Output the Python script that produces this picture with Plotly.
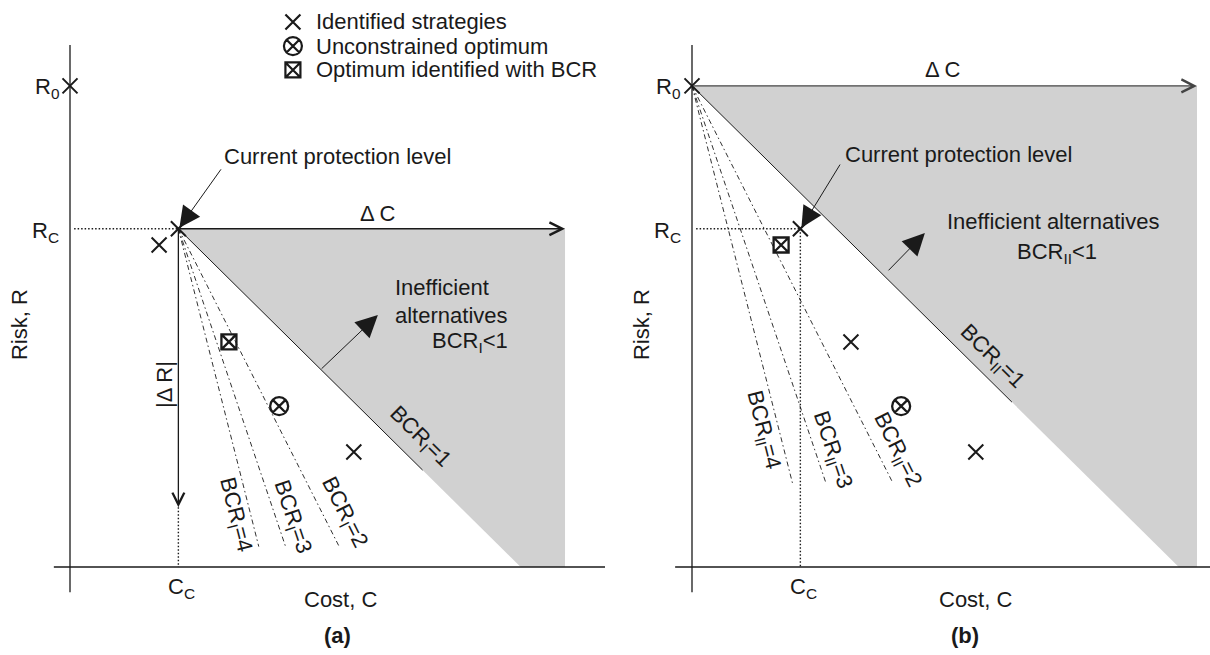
import plotly.graph_objects as go

# Candidate protection strategies: cost C and residual risk R
cost = [0.0, 2.59, 3.15, 4.62, 6.08, 8.25]
risk = [14.15, 9.47, 9.95, 6.62, 4.73, 3.38]
R0_IDX, CUR_IDX, OPT_IDX = 0, 2, 4

# benefit-cost ratio iso-lines
bcr_levels = [1, 2, 3, 4]

FONT = "Liberation Sans, Arial, Helvetica, sans-serif"
INK = "#1a1a1a"
FS = 22

panels = [
    dict(name="a", xr="x", yr="y", base=CUR_IDX, best=3, sub="I",
         xrange=[-2.035, 15.552], cmax=14.39, line_end=0.6, solid_len=7.1,
         xaxis_start=-0.47, dc_color=INK),
    dict(name="b", xr="x2", yr="y2", base=R0_IDX, best=1, sub="II",
         xrange=[-2.529, 15.058], cmax=14.68, line_end=2.47, solid_len=9.3,
         xaxis_start=-0.49, dc_color="#444444"),
]

fig = go.Figure()
ann = []


def line(p, xs, ys, width=1.2, dash="solid", color=INK):
    fig.add_trace(go.Scatter(x=xs, y=ys, mode="lines", xaxis=p["xr"], yaxis=p["yr"],
                             line=dict(color=color, width=width, dash=dash),
                             hoverinfo="skip", showlegend=False))


def text(p, s, x, y, **kw):
    d = dict(text=s, x=x, y=y, xref=p["xr"], yref=p["yr"], showarrow=False,
             font=dict(family=FONT, size=FS, color=INK))
    d.update(kw)
    ann.append(d)


def arrow(p, x0, y0, x1, y1, head, size, width=1.2, color=INK):
    ann.append(dict(x=x1, y=y1, ax=x0, ay=y0, xref=p["xr"], yref=p["yr"],
                    axref=p["xr"], ayref=p["yr"], text="", showarrow=True,
                    arrowhead=head, arrowsize=size, arrowwidth=width,
                    arrowcolor=color, standoff=0))


def markers(p, xs, ys, symbol, size, lw):
    fig.add_trace(go.Scatter(x=xs, y=ys, mode="markers", xaxis=p["xr"], yaxis=p["yr"],
                             marker=dict(symbol=symbol, size=size, color=INK,
                                         line=dict(width=lw, color=INK)),
                             hoverinfo="skip", showlegend=False))


for p in panels:
    c0, r0 = cost[p["base"]], risk[p["base"]]
    cc, rc = cost[CUR_IDX], risk[CUR_IDX]
    cmax = p["cmax"]

    # shaded region of inefficient alternatives (BCR < 1)
    fig.add_trace(go.Scatter(x=[c0, cmax, cmax, c0 + r0, c0], y=[r0, r0, 0, 0, r0],
                             mode="lines", fill="toself", fillcolor="#d1d1d1",
                             line=dict(width=0), xaxis=p["xr"], yaxis=p["yr"],
                             hoverinfo="skip", showlegend=False))

    # axes
    line(p, [0, 0], [-0.74, 15.35], width=1.3)
    line(p, [p["xaxis_start"], p["xrange"][1]], [0, 0], width=1.3)

    # current protection level guides
    line(p, [0.12, cc], [rc, rc], width=1.4, dash="1.5px,2px")
    if p["name"] == "a":
        line(p, [cc, cc], [1.76, 0], width=1.4, dash="1.5px,2px")
    else:
        line(p, [cc, cc], [rc, 0], width=1.4, dash="1.5px,2px")

    # BCR iso-lines
    for b in bcr_levels:
        if b == 1:
            L = p["solid_len"]
            line(p, [c0, c0 + L], [r0, r0 - L], width=1.0)
        else:
            dr = r0 - p["line_end"]
            line(p, [c0, c0 + dr / b], [r0, p["line_end"]], width=0.9,
                 dash="5px,3px,1.5px,3px")

    # strategies
    box_i = p["best"]
    x_idx = [i for i in range(len(cost)) if i not in (box_i, OPT_IDX)]
    markers(p, [cost[i] for i in x_idx], [risk[i] for i in x_idx], "x-thin-open", 15, 2)
    markers(p, [cost[OPT_IDX]], [risk[OPT_IDX]], "circle-x-open", 18, 2.3)
    markers(p, [cost[box_i]], [risk[box_i]], "square-x-open", 15, 2.3)

    # Delta C arrow
    arrow(p, c0, r0, cmax, r0, 5, 1.8, 1.4, p["dc_color"])

    # axis labels
    text(p, "R<sub>0</sub>", -0.26 if p["name"] == "a" else -0.29, 14.1, xanchor="right")
    text(p, "R<sub>C</sub>", -0.25, 9.85, xanchor="right")
    text(p, "C<sub>C</sub>", cc + 0.08, -0.15, yanchor="top")
    text(p, "Risk, R", -1.45, 7.12, textangle=-90)
    sub = p["sub"]
    if p["name"] == "a":
        text(p, "Cost, C", 7.85, -0.97)
        text(p, "<b>(a)</b>", 7.79, -2.0)
        text(p, "Δ C", 8.95, 10.41)
        arrow(p, cc, rc, cc, 1.76, 5, 1.8, 1.3)
        text(p, "|Δ R|", 2.73, 5.38, textangle=-90)
        text(p, "Current protection level", 4.42, 12.06, xanchor="left")
        arrow(p, 4.42, 11.74, cc + 0.03, rc + 0.03, 2, 4.2, 1.0)
        text(p, "Inefficient", 9.39, 8.21, xanchor="left")
        text(p, "alternatives", 9.39, 7.41, xanchor="left")
        text(p, "BCR<sub>I</sub><1", 12.79, 6.62, xanchor="right")
        arrow(p, 7.27, 5.79, 8.95, 7.41, 2, 4.4, 1.0)
        lab = [(1, 10.17, 3.82), (2, 7.97, 1.59), (3, 6.45, 1.47), (4, 4.80, 1.53)]
    else:
        text(p, "Cost, C", 8.23, -0.97)
        text(p, "<b>(b)</b>", 7.94, -2.0)
        text(p, "Δ C", 7.3, 14.62)
        text(p, "Current protection level", 4.39, 12.12, xanchor="left")
        arrow(p, 4.33, 11.88, cc + 0.03, rc + 0.03, 2, 4.2, 1.0)
        text(p, "Inefficient alternatives", 10.49, 10.15)
        text(p, "BCR<sub>II</sub><1", 10.61, 9.24)
        arrow(p, 5.67, 8.68, 6.77, 9.82, 2, 4.4, 1.0)
        lab = [(1, 8.72, 6.18), (2, 5.96, 3.44), (3, 4.07, 3.44), (4, 2.06, 4.03)]
    angles = {1: 44.7, 2: 63.2, 3: 71.4, 4: 75.8}
    for b, lx, ly in lab:
        text(p, f"BCR<sub>{sub}</sub>={b}", lx, ly, textangle=angles[b])

# key
p0 = panels[0]
key_rows = [16.03, 15.32, 14.62]
key_text = ["Identified strategies", "Unconstrained optimum", "Optimum identified with BCR"]
key_sym = ["x-thin-open", "circle-x-open", "square-x-open"]
key_size = [15, 18, 15]
for s, sz, ry, t in zip(key_sym, key_size, key_rows, key_text):
    markers(p0, [6.48], [ry], s, sz, 2.2)
    text(p0, t, 7.1, ry, xanchor="left")

ax_common = dict(visible=False, showgrid=False, zeroline=False, fixedrange=True)
fig.update_layout(
    width=1210, height=655,
    margin=dict(l=0, r=0, t=0, b=0),
    paper_bgcolor="white", plot_bgcolor="white",
    showlegend=False,
    xaxis=dict(domain=[0, 0.5], range=panels[0]["xrange"], **ax_common),
    yaxis=dict(domain=[0, 1], range=[-2.588, 16.676], **ax_common),
    xaxis2=dict(domain=[0.5, 1], range=panels[1]["xrange"], anchor="y2", **ax_common),
    yaxis2=dict(domain=[0, 1], range=[-2.588, 16.676], anchor="x2", **ax_common),
    annotations=ann,
)

fig.write_html("out.html")
